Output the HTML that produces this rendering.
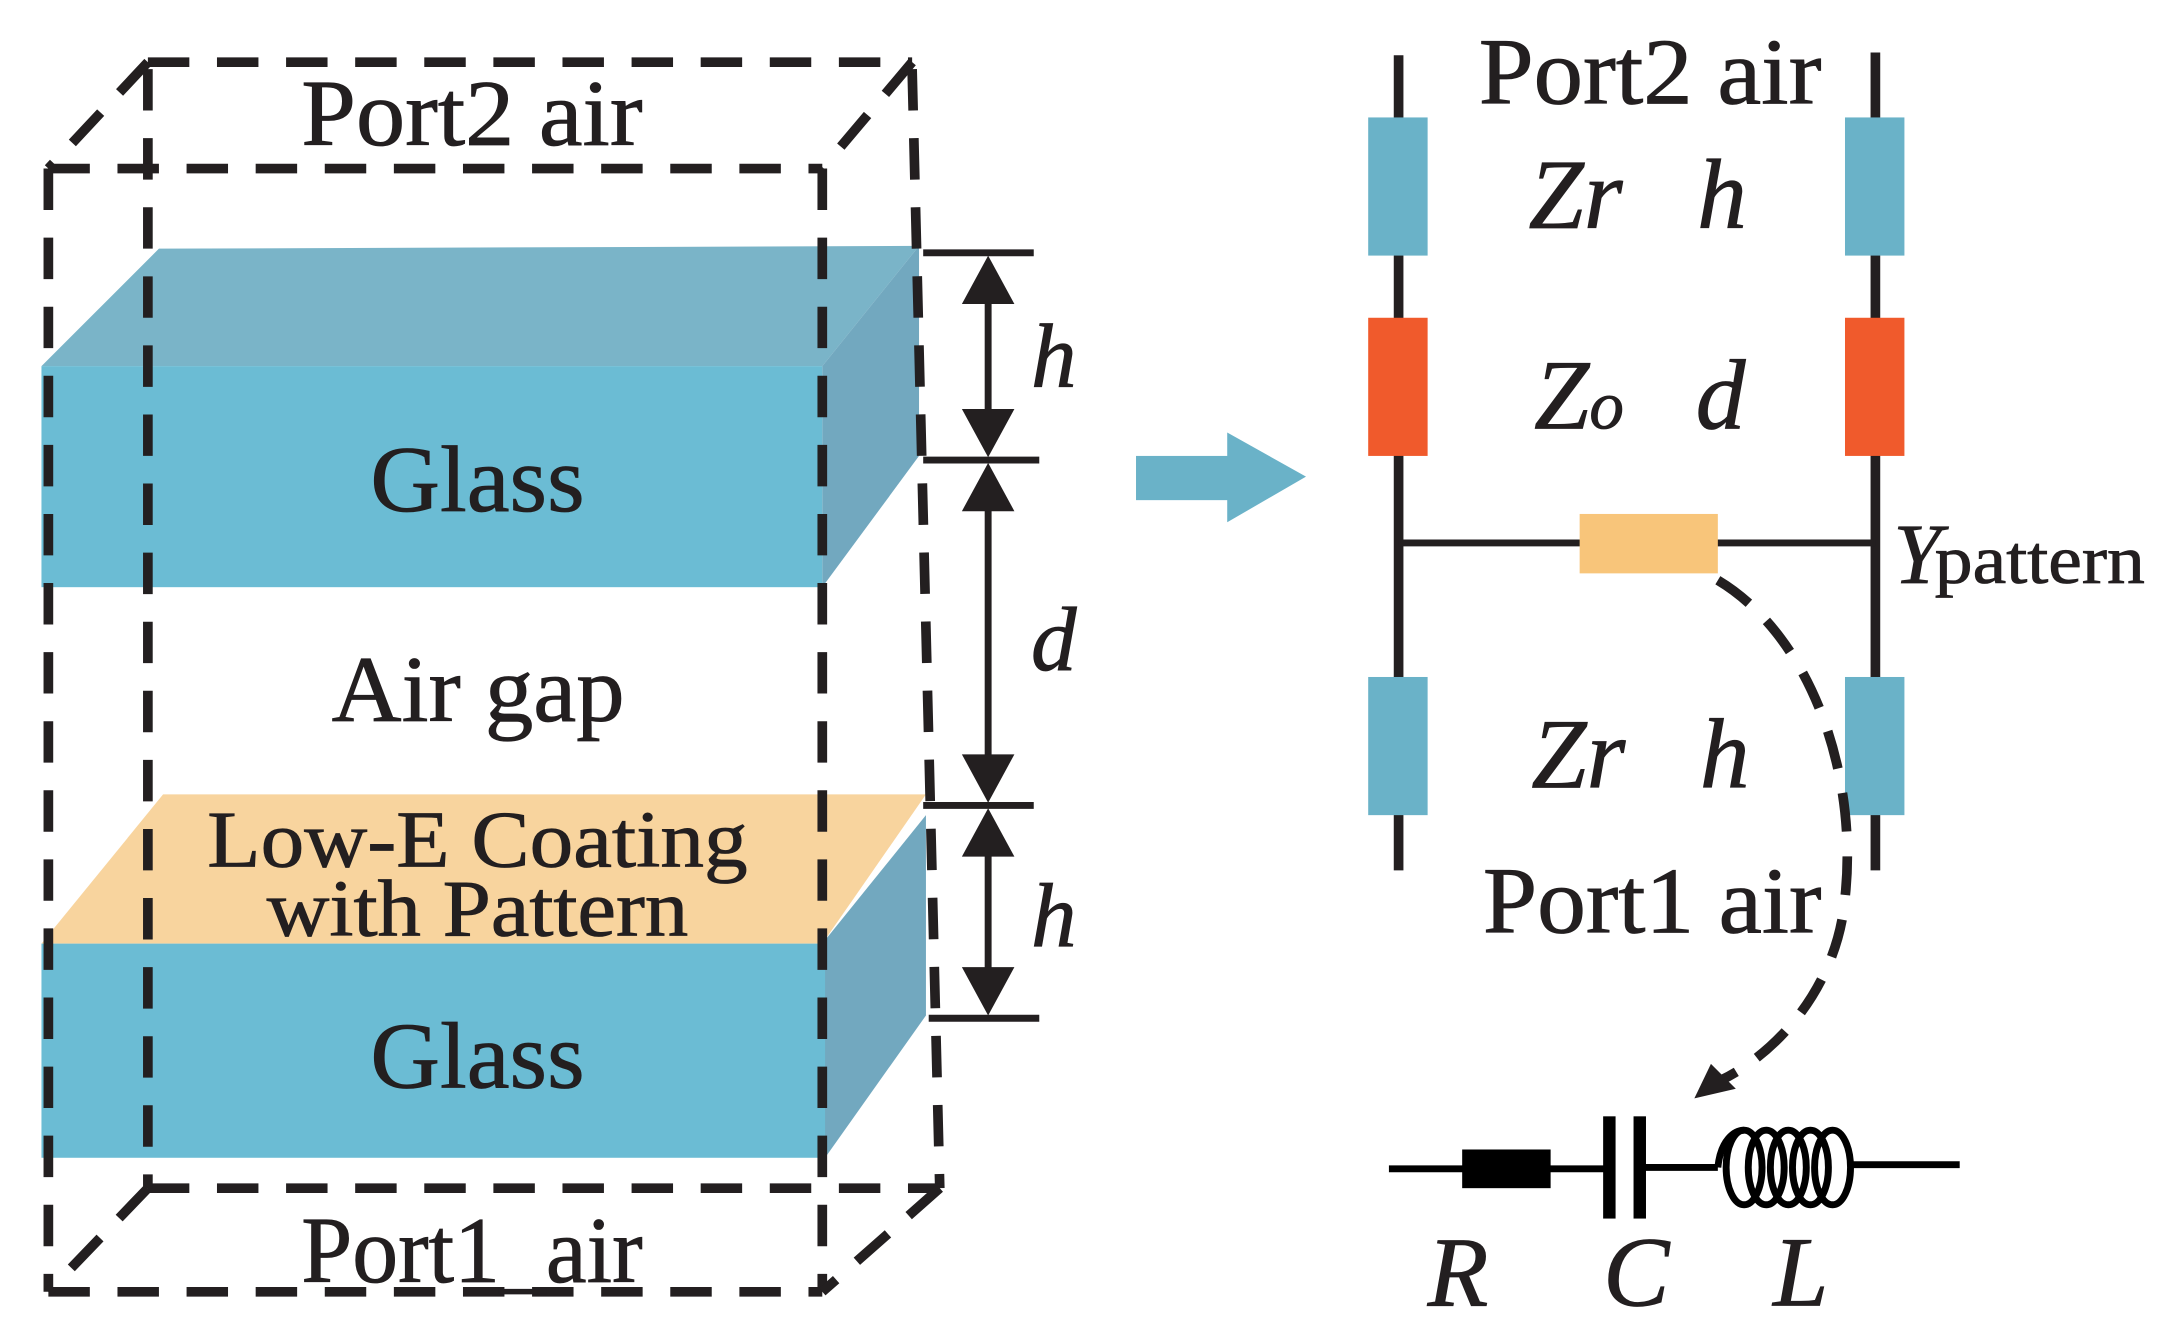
<!DOCTYPE html>
<html><head><meta charset="utf-8"><style>
html,body{margin:0;padding:0;background:#fff;}
svg{display:block;}
text{font-family:"Liberation Serif",serif;fill:#231f20;stroke:#231f20;stroke-width:0.6;}
</style></head><body>
<svg width="2167" height="1336" viewBox="0 0 1568 967" preserveAspectRatio="none" xmlns="http://www.w3.org/2000/svg">
<polygon points="30,265 115,180 665,178 595,265" fill="#7ab4c8"/>
<polygon points="595,265 665,178 665,330 595,425" fill="#72a8bf"/>
<rect x="30" y="265" width="565" height="160" fill="#6bbcd4"/>
<polygon points="30,683 118,575 670,575 595,683" fill="#f8d49e"/>
<polygon points="595,683 670,590 670,735 597,838" fill="#72a8bf"/>
<rect x="30" y="683" width="567" height="155" fill="#6bbcd4"/>
<g fill="none" stroke="#231f20" stroke-width="7" stroke-dasharray="30,20">
<line x1="107" y1="45" x2="660" y2="45"/>
<line x1="660" y1="50" x2="680" y2="860"/>
<line x1="107" y1="860" x2="680" y2="860"/>
<line x1="107" y1="50" x2="107" y2="860"/>
<line x1="35" y1="122" x2="595" y2="122"/>
<line x1="595" y1="122" x2="595" y2="935"/>
<line x1="35" y1="935" x2="595" y2="935"/>
<line x1="35" y1="122" x2="35" y2="935"/>
<line x1="107" y1="45" x2="35" y2="122"/>
<line x1="660" y1="45" x2="595" y2="122"/>
<line x1="107" y1="860" x2="35" y2="935"/>
<line x1="680" y1="860" x2="595" y2="935"/>
</g>
<g stroke="#231f20" stroke-width="5">
<line x1="668" y1="183" x2="748" y2="183"/>
<line x1="668" y1="333" x2="752" y2="333"/>
<line x1="668" y1="583" x2="748" y2="583"/>
<line x1="672" y1="737" x2="752" y2="737"/>
<line x1="715" y1="200" x2="715" y2="316"/>
<line x1="715" y1="350" x2="715" y2="566"/>
<line x1="715" y1="600" x2="715" y2="720"/>
</g>
<g fill="#231f20">
<polygon points="715,185 696,220 734,220"/><polygon points="715,331 696,296 734,296"/>
<polygon points="715,335 696,370 734,370"/><polygon points="715,581 696,546 734,546"/>
<polygon points="715,585 696,620 734,620"/><polygon points="715,735 696,700 734,700"/>
</g>
<g font-style="italic" font-size="66"><text x="746" y="280">h</text><text x="746" y="485">d</text><text x="746" y="685">h</text></g>
<g font-size="68" lengthAdjust="spacingAndGlyphs">
<text x="218" y="105" textLength="247" lengthAdjust="spacingAndGlyphs">Port2 air</text>
<text x="268" y="370" textLength="155" lengthAdjust="spacingAndGlyphs">Glass</text>
<text x="240" y="522" textLength="212" lengthAdjust="spacingAndGlyphs">Air gap</text>
<text x="268" y="787" textLength="155" lengthAdjust="spacingAndGlyphs">Glass</text>
<text x="218" y="928" textLength="247" lengthAdjust="spacingAndGlyphs">Port1_air</text>
</g>
<g font-size="58">
<text x="150" y="627" textLength="391" lengthAdjust="spacingAndGlyphs">Low-E Coating</text>
<text x="193" y="677" textLength="305" lengthAdjust="spacingAndGlyphs">with Pattern</text></g>
<rect x="822" y="330" width="68" height="32" fill="#6ab2c8"/>
<polygon points="888,313 945,345 888,378" fill="#6ab2c8"/>
<g stroke="#231f20" stroke-width="7">
<line x1="1012" y1="40" x2="1012" y2="630"/>
<line x1="1357" y1="38" x2="1357" y2="630"/>
<line x1="1012" y1="393" x2="1357" y2="393" stroke-width="5"/>
</g>
<g fill="#6ab2c8"><rect x="990" y="85" width="43" height="100"/><rect x="1335" y="85" width="43" height="100"/>
<rect x="990" y="490" width="43" height="100"/><rect x="1335" y="490" width="43" height="100"/></g>
<g fill="#f05a2c"><rect x="990" y="230" width="43" height="100"/><rect x="1335" y="230" width="43" height="100"/></g>
<rect x="1143" y="372" width="100" height="43" fill="#f8c57a"/>
<text x="1070" y="75" font-size="68" textLength="248" lengthAdjust="spacingAndGlyphs">Port2 air</text>
<text x="1073" y="675" font-size="68" textLength="245" lengthAdjust="spacingAndGlyphs">Port1 air</text>
<g font-size="72" font-style="italic">
<text x="1106" y="165">Zr</text><text x="1228" y="165">h</text>
<text x="1110" y="310">Z<tspan font-size="50">o</tspan></text><text x="1227" y="310">d</text>
<text x="1108" y="570">Zr</text><text x="1230" y="570">h</text>
<text x="1370" y="422" font-size="62">Y</text>
<text x="1033" y="945">R</text><text x="1160" y="945">C</text><text x="1283" y="945">L</text>
</g>
<text x="1400" y="422" font-size="50" textLength="152" lengthAdjust="spacingAndGlyphs">pattern</text>
<path d="M1243,420 C1310,460 1345,560 1335,650 C1330,710 1290,760 1245,782" fill="none" stroke="#231f20" stroke-width="7" stroke-dasharray="28,18"/>
<polygon points="1226,795 1238,770 1256,788" fill="#231f20"/>
<g stroke="#000" stroke-width="5" fill="none">
<line x1="1005" y1="846" x2="1163" y2="846"/>
<line x1="1190" y1="845" x2="1243" y2="845"/>
<line x1="1340" y1="843" x2="1418" y2="843"/>
<path d="M1243,845 C1245,825 1255,818 1262,818"/>
<ellipse cx="1262" cy="845" rx="13" ry="27"/><ellipse cx="1278" cy="845" rx="13" ry="27"/>
<ellipse cx="1294" cy="845" rx="13" ry="27"/><ellipse cx="1310" cy="845" rx="13" ry="27"/>
<ellipse cx="1326" cy="845" rx="13" ry="27"/>
</g>
<rect x="1058" y="832" width="64" height="28" fill="#000"/>
<rect x="1160" y="808" width="9" height="74" fill="#000"/>
<rect x="1182" y="808" width="9" height="74" fill="#000"/>
</svg>
</body></html>
